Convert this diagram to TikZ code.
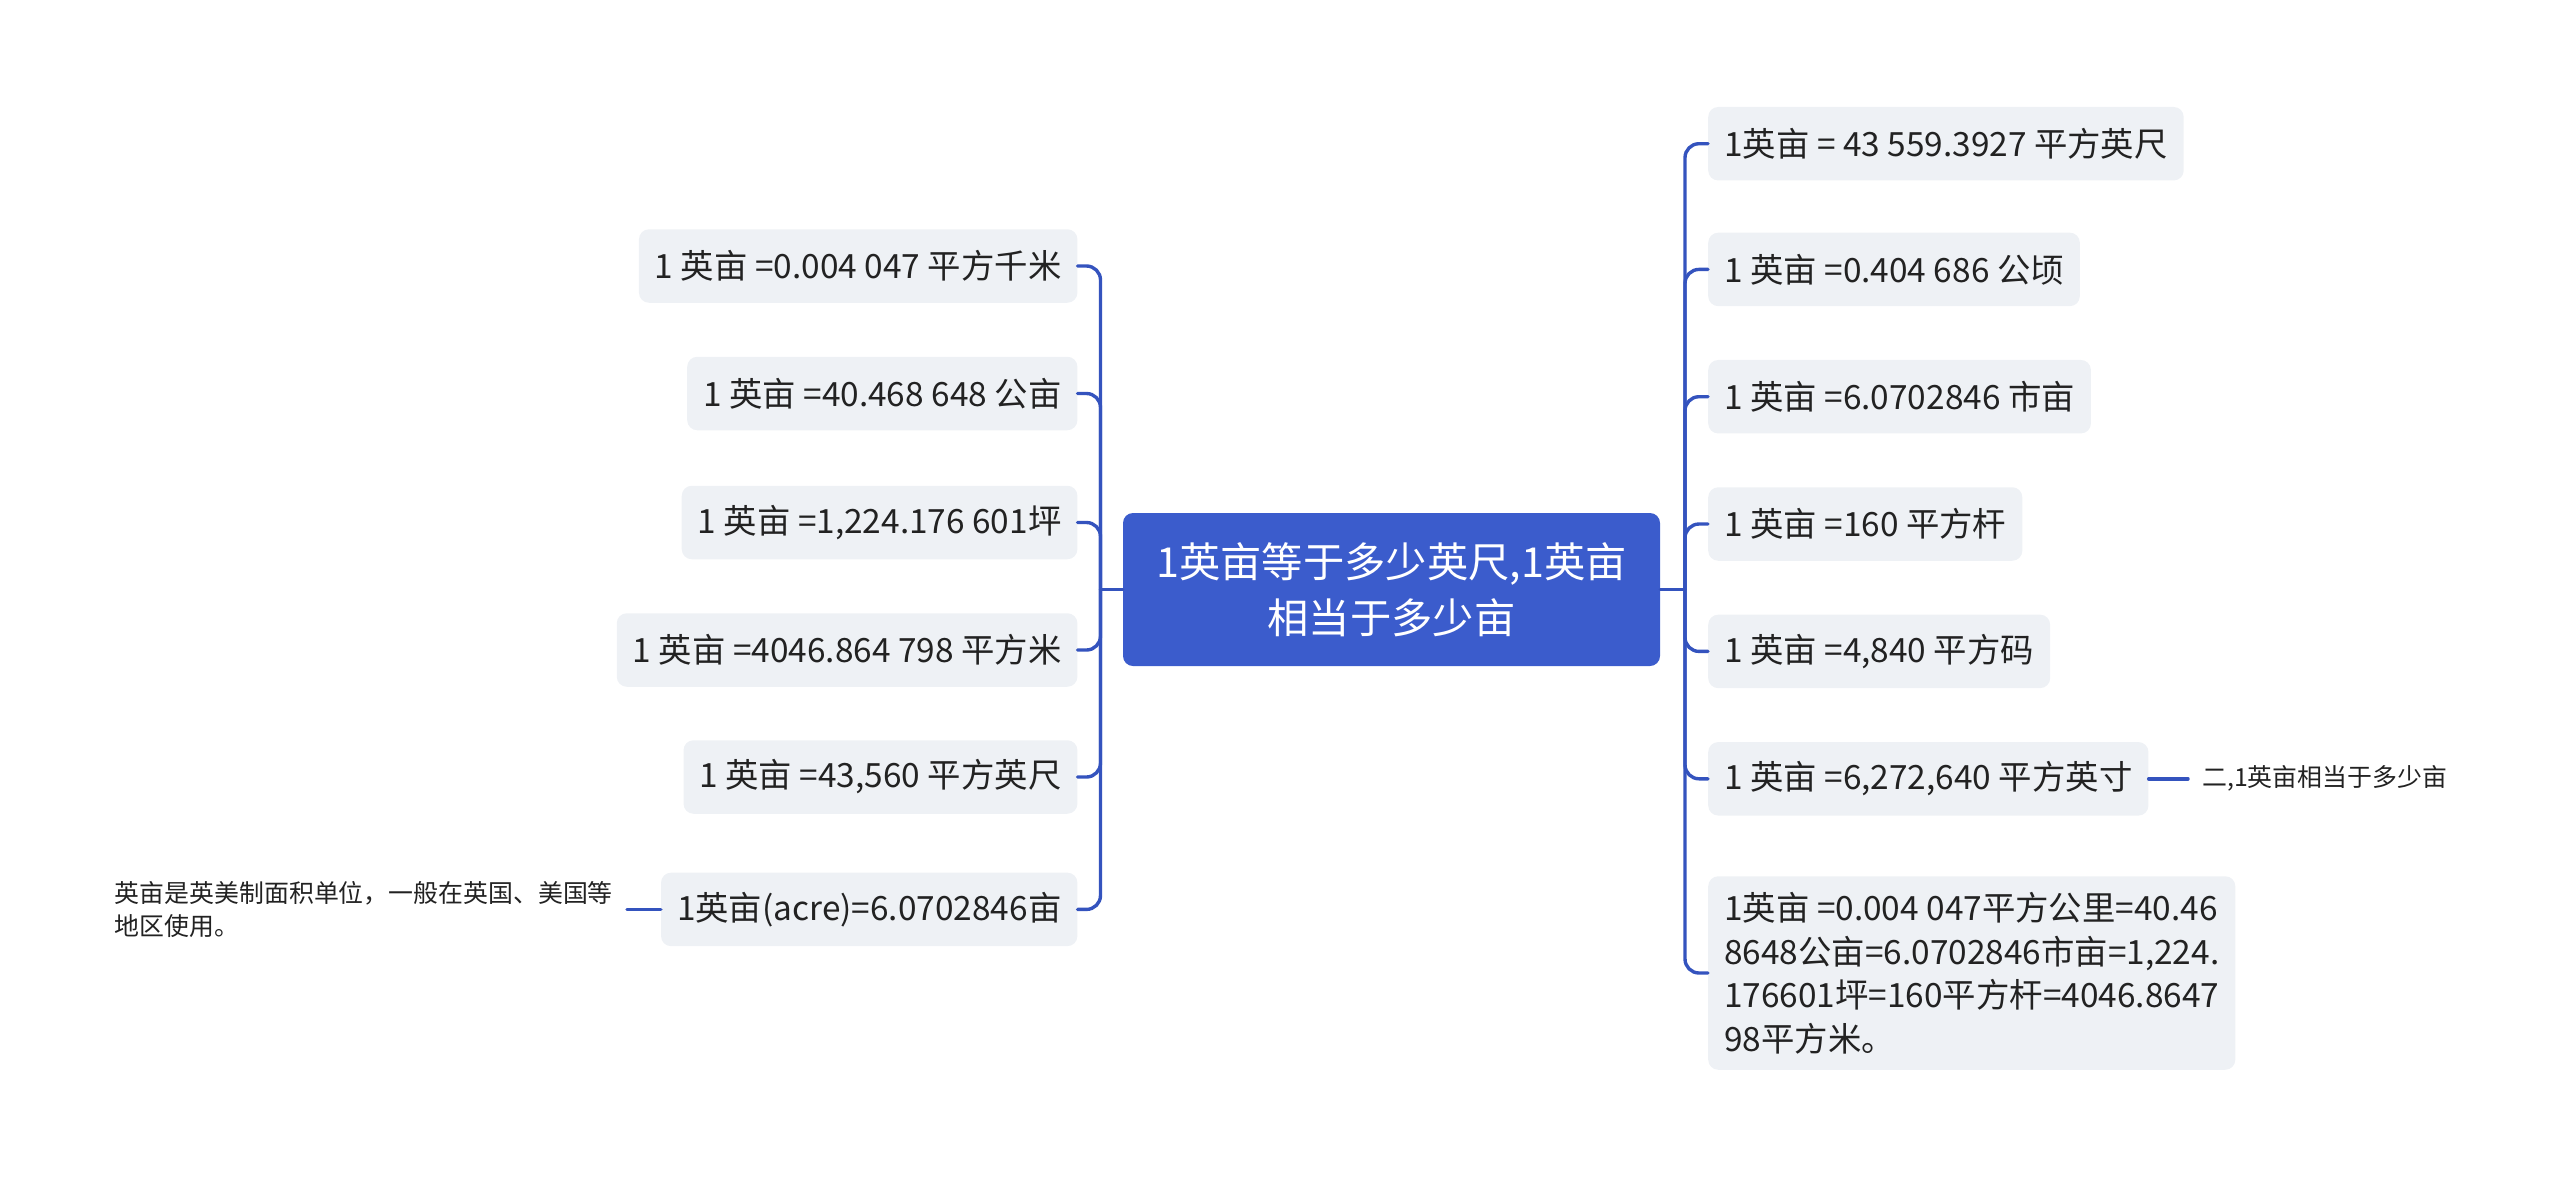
\documentclass[tikz,border=0pt]{standalone}
\usepackage{fontspec}
\setmainfont{Noto Sans CJK SC}
\definecolor{blu}{HTML}{3B5CCC}
\definecolor{ramoblu}{HTML}{3453BE}
\definecolor{grigio}{HTML}{EEF1F5}
\definecolor{testo}{HTML}{222222}
\begin{document}
\begin{tikzpicture}[
			x=1pt, y=-1pt,
			ramo/.style={line width=3.4pt, draw=ramoblu, line cap=round,
				rounded corners=14pt},
			radice/.style={fill=blu, text=white, rounded corners=10pt,
				minimum width=537pt, minimum height=153pt, align=center,
				font=\fontsize{41.3}{56}\selectfont},
			voce/.style={fill=grigio, text=testo, rounded corners=10pt,
				inner xsep=16pt, minimum height=73.5pt,
				font=\fontsize{33.4}{43.5}\selectfont},
			nota/.style={text=testo, inner xsep=14pt, inner ysep=0pt,
				align=left, font=\fontsize{24.9}{33}\selectfont},
			]
			\useasboundingbox (0,0) rectangle (2560,1179);
			
			\node[radice] (R) at (1391.5, 589.5)
			{1英亩等于多少英尺,1英亩\\相当于多少亩};
			\coordinate (GS) at (1100.5, 589.5);
			\coordinate (GD) at (1685, 589.5);
			
			\node[voce, anchor=east] (S1) at (1077.6, 266)
			{1 英亩 =0.004 047 平方千米};
			\node[voce, anchor=east] (S2) at (1077.6, 393.5)
			{1 英亩 =40.468 648 公亩};
			\node[voce, anchor=east] (S3) at (1077.6, 522.5)
			{1 英亩 =1,224.176 601坪};
			\node[voce, anchor=east] (S4) at (1077.6, 650)
			{1 英亩 =4046.864 798 平方米};
			\node[voce, anchor=east] (S5) at (1077.6, 777)
			{1 英亩 =43,560 平方英尺};
			\node[voce, anchor=east] (S6) at (1077.6, 909.4)
			{1英亩(acre)=6.0702846亩};
			\node[nota, anchor=east] (SN) at (627, 909.4)
			{英亩是英美制面积单位，一般在英国、美国等\\地区使用。};
			
			\node[voce, anchor=west] (D1) at (1708, 143.7)
			{1英亩 = 43 559.3927 平方英尺};
			\node[voce, anchor=west] (D2) at (1708, 269.4)
			{1 英亩 =0.404 686 公顷};
			\node[voce, anchor=west] (D3) at (1708, 396.7)
			{1 英亩 =6.0702846 市亩};
			\node[voce, anchor=west] (D4) at (1708, 524)
			{1 英亩 =160 平方杆};
			\node[voce, anchor=west] (D5) at (1708, 651.4)
			{1 英亩 =4,840 平方码};
			\node[voce, anchor=west] (D6) at (1708, 778.8)
			{1 英亩 =6,272,640 平方英寸};
			\node[voce, anchor=west, align=left, inner ysep=16pt] (D7) at (1708, 973)
			{1英亩 =0.004 047平方公里=40.46\\8648公亩=6.0702846市亩=1,224.\\
				176601坪=160平方杆=4046.8647\\98平方米。};
			\node[nota, anchor=west] (DN) at (2188, 778.8)
			{二,1英亩相当于多少亩};
			
			\draw[ramo](R.west)--(GS);
			\draw[ramo](GS)|-(S1.east);
			\draw[ramo](GS)|-(S2.east);
			\draw[ramo](GS)|-(S3.east);
			\draw[ramo](GS)|-(S4.east);
			\draw[ramo](GS)|-(S5.east);
			\draw[ramo](GS)|-(S6.east);
			\draw[ramo](S6.west)--(SN.east);
			
			\draw[ramo](R.east)--(GD);
			\draw[ramo](GD)|-(D1.west);
			\draw[ramo](GD)|-(D2.west);
			\draw[ramo](GD)|-(D3.west);
			\draw[ramo](GD)|-(D4.west);
			\draw[ramo](GD)|-(D5.west);
			\draw[ramo](GD)|-(D6.west);
			\draw[ramo](GD)|-(D7.west);
			\draw[ramo](D6.east)--(DN.west);
		\end{tikzpicture}
\end{document}
